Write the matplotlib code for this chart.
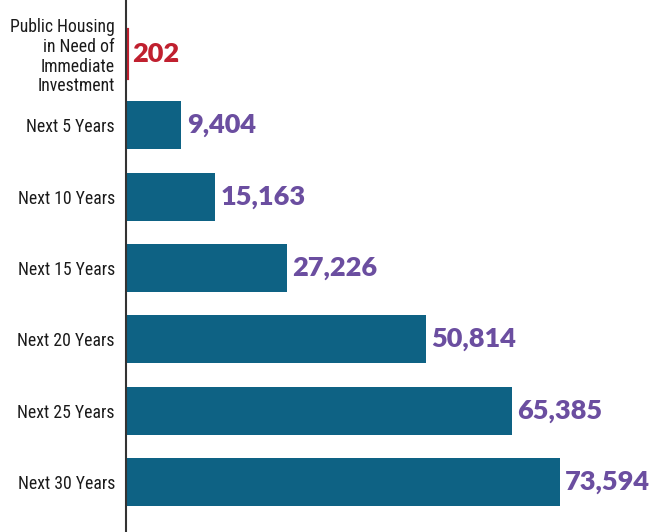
import matplotlib
matplotlib.use('Agg')
import matplotlib.pyplot as plt

# --- data ---
categories = ['Public Housing\nin Need of\nImmediate\nInvestment', 'Next 5 Years', 'Next 10 Years',
              'Next 15 Years', 'Next 20 Years', 'Next 25 Years', 'Next 30 Years']
values = [202, 9404, 15163, 27226, 50814, 65385, 73594]
value_labels = ['202', '9,404', '15,163', '27,226', '50,814', '65,385', '73,594']

TEAL = '#0e6284'
RED = '#c0202f'
PURPLE = '#6b4ea0'
bar_colors = [RED] + [TEAL] * 6
text_colors = [RED] + [PURPLE] * 6

fig = plt.figure(figsize=(6.53, 5.32), dpi=100)
ax = fig.add_axes([126 / 653, 0, 1 - 126 / 653, 1])

pos = list(range(len(categories)))
ax.barh(pos, values, height=0.67, color=bar_colors, edgecolor=bar_colors, linewidth=[3] + [0] * 6)

for y, v, lab, c in zip(pos, values, value_labels, text_colors):
    ax.text(v + 900, y, lab, va='center', ha='left', color=c,
            fontsize=19.5, fontweight='heavy', family=['Lato', 'DejaVu Sans'])

ax.set_xlim(0, 89370)
ax.set_ylim(6.70, -0.757)
ax.set_yticks(pos)
ax.set_yticklabels(categories, fontsize=12.7, color='#1a1a1a', linespacing=1.12,
                   family=['Roboto Condensed', 'DejaVu Sans'])
ax.tick_params(axis='y', length=0, pad=8)
ax.set_xticks([])
for s in ['top', 'right', 'bottom']:
    ax.spines[s].set_visible(False)
ax.spines['left'].set_color('#333333')
ax.spines['left'].set_linewidth(1.5)

fig.savefig('out.png', dpi=100)
